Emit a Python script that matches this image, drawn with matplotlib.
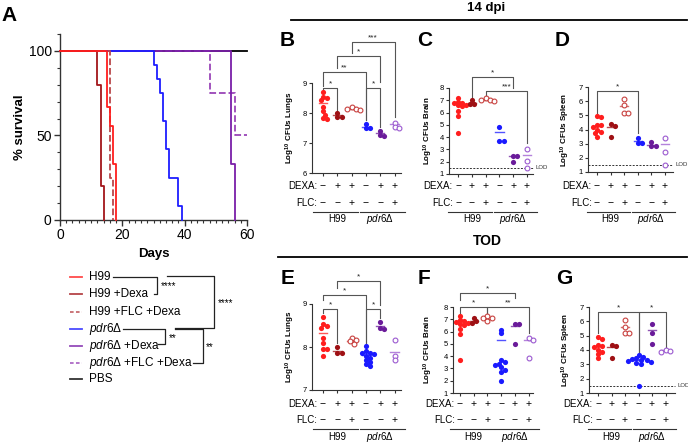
import numpy as np
import matplotlib
matplotlib.use('Agg')
import matplotlib.pyplot as plt
from matplotlib import transforms

plt.rcParams['font.family'] = ['Liberation Sans', 'DejaVu Sans']
plt.rcParams['mathtext.fontset'] = 'custom'
plt.rcParams['mathtext.rm'] = 'Liberation Sans'
plt.rcParams['mathtext.it'] = 'Liberation Sans:italic'
plt.rcParams['mathtext.bf'] = 'Liberation Sans:bold'

W, H = 688, 443
fig = plt.figure(figsize=(W / 100, H / 100), dpi=100)

# ---------------- data ----------------
surv_labels = ['H99', 'H99 +Dexa', 'H99 +FLC +Dexa', r'$\mathit{pdr6}$Δ',
               r'$\mathit{pdr6}$Δ +Dexa', r'$\mathit{pdr6}$Δ +FLC +Dexa', 'PBS']
surv_days = [
    [0, 15, 16, 17, 18],
    [0, 12, 13, 14],
    [0, 16, 17],
    [0, 30, 31, 32, 33, 34, 35, 38, 39],
    [0, 55, 56],
    [0, 48, 56, 60],
    [0, 60],
]
surv_pct = [
    [100, 66.7, 55.6, 33.3, 0],
    [100, 80, 20, 0],
    [100, 25, 0],
    [100, 91.7, 83.3, 75, 58.3, 41.7, 25, 8.3, 0],
    [100, 33.3, 0],
    [100, 75, 50, 50],
    [100, 100],
]
surv_colors = ['#FF1E1E', '#A3161A', '#B9474A', '#1E1EFF', '#7A1FA8', '#9A45B8', '#000000']
surv_styles = ['-', '-', '--', '-', '-', '--', '-']

dexa_signs = ['−', '+', '+', '−', '+', '+']
flc_signs = ['−', '−', '+', '−', '−', '+']
group_names = ['H99', r'$\mathit{pdr6}$Δ']
grp_colors = ['#FF1E1E', '#9E1014', '#C8413F', '#1A1AFF', '#6A1B9A', '#9B59D0']
grp_filled = [True, True, False, True, True, False]

lungs_14 = [[8.7, 8.55, 8.5, 8.45, 8.2, 8.05, 7.95, 7.85, 7.8],
            [8.0, 7.88, 7.88],
            [8.2, 8.15, 8.12, 8.1],
            [7.63, 7.5, 7.5],
            [7.4, 7.27, 7.25],
            [7.68, 7.55, 7.5]]
lungs_14_lines = [8.33, 7.92, 8.15, 7.55, 7.32, 7.62]

brain_14 = [[7.2, 6.9, 6.8, 6.75, 6.65, 6.6, 6.5, 6.15, 5.75, 4.3],
            [7.0, 6.72, 6.72],
            [7.15, 7.05, 7.0, 6.95],
            [4.8, 3.7, 3.7],
            [2.5, 2.5, 2.0],
            [3.0, 2.05, 1.5]]
brain_14_lines = [6.75, 6.78, 7.05, 4.4, 2.45, 2.55]

spleen_14 = [[4.95, 4.85, 4.35, 4.3, 4.2, 4.0, 3.85, 3.75, 3.5],
             [4.38, 4.27, 3.45],
             [6.14, 5.72, 5.18, 5.13],
             [3.43, 3.05, 3.05],
             [3.1, 2.82, 2.82],
             [3.38, 2.44, 1.46]]
spleen_14_lines = [4.25, 4.2, 5.65, 3.2, 2.9, 2.95]

lungs_tod = [[8.7, 8.53, 8.5, 8.45, 8.22, 8.1, 7.95, 7.95, 7.8],
             [7.99, 7.85, 7.85],
             [8.22, 8.16, 8.14, 8.08],
             [8.02, 7.9, 7.87, 7.85, 7.83, 7.8, 7.75, 7.7, 7.65, 7.6, 7.55],
             [8.57, 8.44, 8.41],
             [8.17, 7.8, 7.7]]
lungs_tod_lines = [8.33, 7.9, 8.15, 7.82, 8.49, 7.88]

brain_tod = [[7.3, 6.95, 6.85, 6.8, 6.7, 6.6, 6.55, 6.2, 5.8, 3.7],
             [7.1, 6.83, 6.7],
             [7.25, 7.1, 7.1, 6.9],
             [6.15, 5.85, 3.65, 3.5, 3.4, 3.3, 3.1, 2.9, 2.75, 2.0],
             [6.6, 6.6, 4.95],
             [5.5, 5.3, 3.85]]
brain_tod_lines = [6.85, 6.83, 7.05, 5.35, 6.43, 5.3]

spleen_tod = [[4.9, 4.78, 4.35, 4.3, 4.2, 4.0, 3.85, 3.75, 3.45],
              [4.33, 4.26, 3.44],
              [6.07, 5.6, 5.19, 5.19],
              [3.65, 3.5, 3.42, 3.38, 3.32, 3.28, 3.22, 3.18, 3.1, 3.02, 1.5],
              [5.84, 5.19, 4.44],
              [4.0, 3.9, 3.84]]
spleen_tod_lines = [4.25, 4.2, 5.6, 3.28, 5.42, 4.0]

# brackets: (cat_i, cat_j, y_top, y_left_end, y_right_end, label)
br_lungs_14 = [(0, 1, 8.83, 8.67, 8.1, '*'), (0, 3, 9.37, 8.9, 7.77, '**'),
               (3, 4, 8.83, 7.77, 7.53, '*'), (1, 4, 9.9, 9.5, 9.05, '*'),
               (2, 5, 10.37, 10.0, 7.87, '***')]
br_brain_14 = [(1, 4, 8.89, 7.26, 8.0, '*'), (2, 5, 7.75, 7.26, 3.52, '***')]
br_spleen_14 = [(0, 3, 6.7, 5.15, 3.75, '*')]
br_lungs_tod = [(0, 1, 8.88, 8.79, 8.09, '*'), (0, 3, 9.21, 9.09, 8.0, '*'),
                (3, 4, 8.88, 8.0, 8.67, '*'), (1, 4, 9.53, 9.37, 8.98, '*')]
br_brain_tod = [(0, 4, 9.11, 8.55, 8.7, '*'), (0, 2, 7.98, 7.3, 7.5, '*'),
                (2, 5, 7.98, 7.5, 5.85, '**')]
br_spleen_tod = [(0, 3, 6.67, 5.18, 3.78, '*'), (3, 5, 6.67, 3.78, 4.2, '*')]

LOD = 1.5
AXC = '#333333'


def px_axes(left, top, right, bottom):
    return fig.add_axes([left / W, 1 - bottom / H, (right - left) / W, (bottom - top) / H])


# ---------------- panel A ----------------
axA = px_axes(60, 34, 247, 220)
for i in range(len(surv_days) - 1, -1, -1):
    axA.step(surv_days[i], surv_pct[i], where='post', color=surv_colors[i],
             ls=surv_styles[i], lw=1.3, clip_on=False, zorder=3 + (6 - i))
axA.set_xlim(0, 60)
axA.set_ylim(0, 110)
axA.set_xticks([0, 20, 40, 60])
axA.set_xticks(np.arange(0, 61, 2), minor=True)
axA.set_yticks([0, 50, 100])
axA.set_yticks(np.arange(0, 111, 10), minor=True)
for s in ['top', 'right']:
    axA.spines[s].set_visible(False)
for s in ['left', 'bottom']:
    axA.spines[s].set_linewidth(1.0)
    axA.spines[s].set_color(AXC)
axA.tick_params(which='major', length=4, width=1.0, color=AXC, labelsize=10, pad=2)
axA.tick_params(which='minor', length=2.5, width=0.8, color=AXC)
axA.set_xlabel('Days', fontsize=9.5, fontweight='bold', labelpad=4)
axA.set_ylabel('% survival', fontsize=9.5, fontweight='bold', labelpad=2)


# ---------------- dot panels ----------------
def swarm_x(ax, x0, vals, diam):
    pts = ax.transData.transform(np.column_stack([np.full(len(vals), float(x0)), vals]))
    ys = pts[:, 1]
    xs0 = pts[0, 0]
    placed = []
    dxs = np.zeros(len(vals))
    for i in np.argsort(-ys):
        best = None
        for k in range(0, 30):
            for sgn in ([0] if k == 0 else [1, -1]):
                dx = sgn * k * diam * 0.5
                if all((dx - px) ** 2 + (ys[i] - py) ** 2 >= (diam * 0.85) ** 2 for px, py in placed):
                    best = dx
                    break
            if best is not None:
                break
        placed.append((best, ys[i]))
        dxs[i] = best
    inv = ax.transData.inverted()
    return inv.transform(np.column_stack([xs0 + dxs, ys]))[:, 0]


def dot_panel(rect, c0, sp, data, lines, ylim, yticks, ylabel, ylab_x, brackets,
              rows_y, lod_end=None):
    left, top, right, bottom = rect
    ax = px_axes(left, top, right, bottom)
    ax.set_xlim((left - c0) / sp, (right - c0) / sp)
    ax.set_ylim(*ylim)
    ax.set_yticks(yticks)
    ax.set_xticks(range(6))
    ax.set_xticklabels([])
    for s in ['top', 'right']:
        ax.spines[s].set_visible(False)
    for s in ['left', 'bottom']:
        ax.spines[s].set_linewidth(0.8)
        ax.spines[s].set_color(AXC)
    ax.tick_params(axis='y', length=2.5, width=0.8, color=AXC, labelsize=5.5, pad=1)
    ax.tick_params(axis='x', length=2.5, width=0.8, color=AXC)
    for g, vals in enumerate(data):
        xs = swarm_x(ax, g, vals, 4.2)
        if grp_filled[g]:
            ax.scatter(xs, vals, s=14, color=grp_colors[g], linewidths=0, zorder=4, clip_on=False)
        else:
            ax.scatter(xs, vals, s=12, facecolors='white', edgecolors=grp_colors[g],
                       linewidths=0.8, zorder=4, clip_on=False)
        ax.plot([g - 0.3, g + 0.3], [lines[g], lines[g]], color=grp_colors[g], lw=1.0,
                zorder=3, alpha=0.75, clip_on=False)
    # brackets
    for (i, j, yt, yl, yr, lab) in brackets:
        ax.plot([i, i, j, j], [yl, yt, yt, yr], color='#555555', lw=0.8, clip_on=False, zorder=2)
        ax.annotate(lab, xy=((i + j) / 2, yt), xytext=(0, 0.5), textcoords='offset points',
                    ha='center', va='bottom', fontsize=6, color='#222222', annotation_clip=False)
    # LOD
    if lod_end is not None:
        tr = transforms.blended_transform_factory(fig.transFigure, ax.transData)
        x_end = lod_end / W
        ax.plot([left / W, x_end], [LOD, LOD], transform=tr, color=AXC, lw=0.7,
                ls=(0, (2, 1.5)), clip_on=False, zorder=2)
        ax.text(x_end + 2 / W, LOD, 'LOD', transform=tr, fontsize=4.3, color=AXC,
                ha='left', va='center')
    # category labels
    trx = transforms.blended_transform_factory(ax.transData, fig.transFigure)
    ydexa, yflc, yline, ylab = [1 - v / H for v in rows_y]
    ax.text(-0.38, ydexa, 'DEXA:', transform=trx, ha='right', va='center', fontsize=7)
    ax.text(-0.38, yflc, 'FLC:', transform=trx, ha='right', va='center', fontsize=7)
    for k in range(6):
        ax.text(k, ydexa, dexa_signs[k], transform=trx, ha='center', va='center', fontsize=7.5)
        ax.text(k, yflc, flc_signs[k], transform=trx, ha='center', va='center', fontsize=7.5)
    ax.plot([-0.72, 2.45], [yline, yline], transform=trx, color=AXC, lw=0.8, clip_on=False)
    ax.plot([2.58, 5.75], [yline, yline], transform=trx, color=AXC, lw=0.8, clip_on=False)
    ax.text(1, ylab, group_names[0], transform=trx, ha='center', va='center', fontsize=7)
    ax.text(4, ylab, group_names[1], transform=trx, ha='center', va='center', fontsize=7)
    # y label
    fig.text(ylab_x / W, 1 - (top + bottom) / 2 / H, ylabel, rotation=90, ha='center',
             va='center', fontsize=5.8, fontweight='bold')
    return ax


row1 = (186, 203, 212, 219)
row2 = (404, 420, 429, 437)
lab = lambda organ: r'Log$^{\mathbf{10}}$ CFUs ' + organ

dot_panel((312, 83, 401, 173), 323, 14.3, lungs_14, lungs_14_lines, (6, 9), [6, 7, 8, 9],
          lab('Lungs'), 290, br_lungs_14, row1)
dot_panel((449, 88, 533, 174), 458, 13.8, brain_14, brain_14_lines, (1, 8), range(1, 9),
          lab('Brain'), 428, br_brain_14, row1, lod_end=534)
dot_panel((588, 87, 673, 172), 597, 13.6, spleen_14, spleen_14_lines, (1, 7), range(1, 8),
          lab('Spleen'), 565, br_spleen_14, row1, lod_end=673)
dot_panel((312, 304, 401, 390), 323, 14.3, lungs_tod, lungs_tod_lines, (7, 9), [7, 8, 9],
          lab('Lungs'), 290, br_lungs_tod, row2)
dot_panel((453, 307, 533, 393), 460, 13.7, brain_tod, brain_tod_lines, (1, 8), range(1, 9),
          lab('Brain'), 428, br_brain_tod, row2)
dot_panel((589, 307, 675, 393), 598, 13.5, spleen_tod, spleen_tod_lines, (1, 7), range(1, 8),
          lab('Spleen'), 566, br_spleen_tod, row2, lod_end=675)

# ---------------- overlay (pixel coordinates) ----------------
ov = fig.add_axes([0, 0, 1, 1], zorder=10)
ov.set_xlim(0, W)
ov.set_ylim(H, 0)
ov.set_axis_off()

for letter, (x, y) in zip('ABCDEFG', [(9.5, 15.5), (287, 40), (425, 40), (562, 40),
                                       (288, 278), (424, 278), (564, 278)]):
    ov.text(x, y, letter, fontsize=15, fontweight='bold', ha='center', va='center')

ov.text(486, 8, '14 dpi', fontsize=9.5, fontweight='bold', ha='center', va='center')
ov.plot([291, 687], [20, 20], color='black', lw=1.3)
ov.text(487, 241, 'TOD', fontsize=10, fontweight='bold', ha='center', va='center')
ov.plot([278, 687], [257, 257], color='black', lw=1.3)

# legend of panel A
leg_y = [277, 294, 312, 329, 346, 363, 379]
for i, yy in enumerate(leg_y):
    ov.plot([70, 82], [yy, yy], color=surv_colors[i], ls=surv_styles[i], lw=1.3, alpha=0.8,
            dashes=(2, 1.3) if surv_styles[i] == '--' else (None, None))
    ov.text(89, yy, surv_labels[i], fontsize=8.5, ha='left', va='center')

bk = dict(color='#222222', lw=0.9)
ov.plot([113, 157, 157, 154], [277, 277, 294, 294], **bk)
ov.text(161, 286, '****', fontsize=7, ha='left', va='center')
ov.plot([167, 214, 214, 175], [276, 276, 328, 328], **bk)
ov.text(218, 303, '****', fontsize=7, ha='left', va='center')
ov.plot([123, 165, 165, 158], [329, 329, 344, 344], **bk)
ov.text(169, 338, '**', fontsize=7, ha='left', va='center')
ov.plot([175, 203, 203, 193], [329, 329, 363, 363], **bk)
ov.text(206, 347, '**', fontsize=7, ha='left', va='center')

fig.savefig('out.png', dpi=100)
